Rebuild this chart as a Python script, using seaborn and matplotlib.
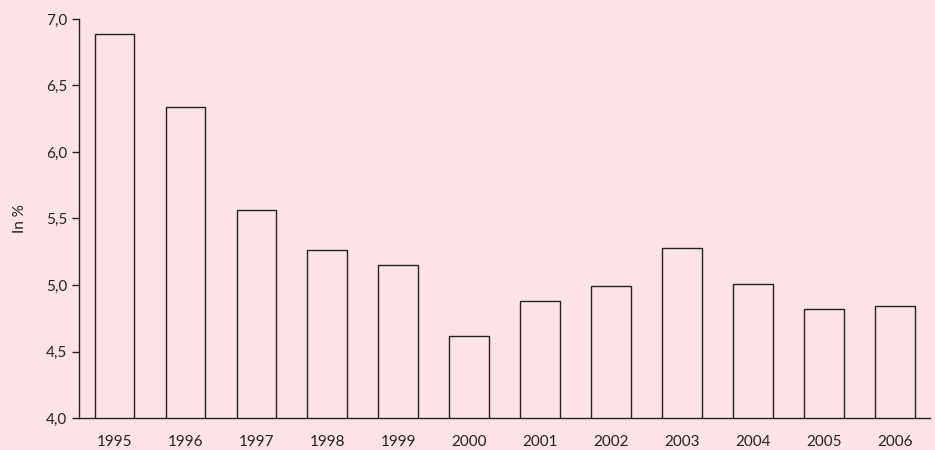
import numpy as np
import pandas as pd
import seaborn as sns
import matplotlib.pyplot as plt
from matplotlib.ticker import FuncFormatter, FixedLocator

years = ["1995", "1996", "1997", "1998", "1999", "2000",
         "2001", "2002", "2003", "2004", "2005", "2006"]
values = [6.89, 6.34, 5.56, 5.26, 5.15, 4.62, 4.88, 4.99, 5.28, 5.01, 4.82, 4.84]

bg = "#fde3e6"

sns.set_style("white")
plt.rcParams['font.family'] = ['Lato', 'DejaVu Sans']

fig = plt.figure(figsize=(9.35, 4.5), dpi=100, facecolor=bg)
ax = fig.add_axes([0.0845, 0.071, 0.9105, 0.887], facecolor=bg)

df = pd.DataFrame({"year": years, "value": values})
sns.barplot(data=df, x="year", y="value", ax=ax, color=bg, width=0.56,
            edgecolor="#222222", linewidth=1.0, saturation=1)

ax.set_ylim(4.0, 7.0)
ax.set_xlim(-0.5, len(years) - 0.5)
ax.set_yticks(np.arange(4.0, 7.01, 0.5))
ax.yaxis.set_major_formatter(FuncFormatter(lambda v, p: f"{v:.1f}".replace(".", ",")))

ax.xaxis.set_minor_locator(FixedLocator(np.arange(-0.5, len(years), 1.0)))
ax.tick_params(axis="x", which="major", length=0, labelsize=11, colors="#222222", pad=12)
ax.tick_params(axis="x", which="minor", length=5, width=1, color="#222222", direction="out")
ax.tick_params(axis="y", length=5, width=1, color="#222222", direction="out",
               labelsize=11, labelcolor="#222222", left=True)

ax.set_xlabel("")
ax.set_ylabel("In %", fontsize=11, color="#222222", labelpad=14)

for side in ["top", "right"]:
    ax.spines[side].set_visible(False)
for side in ["left", "bottom"]:
    ax.spines[side].set_color("#222222")
    ax.spines[side].set_linewidth(1)

plt.savefig("out.png", dpi=100, facecolor=bg)
